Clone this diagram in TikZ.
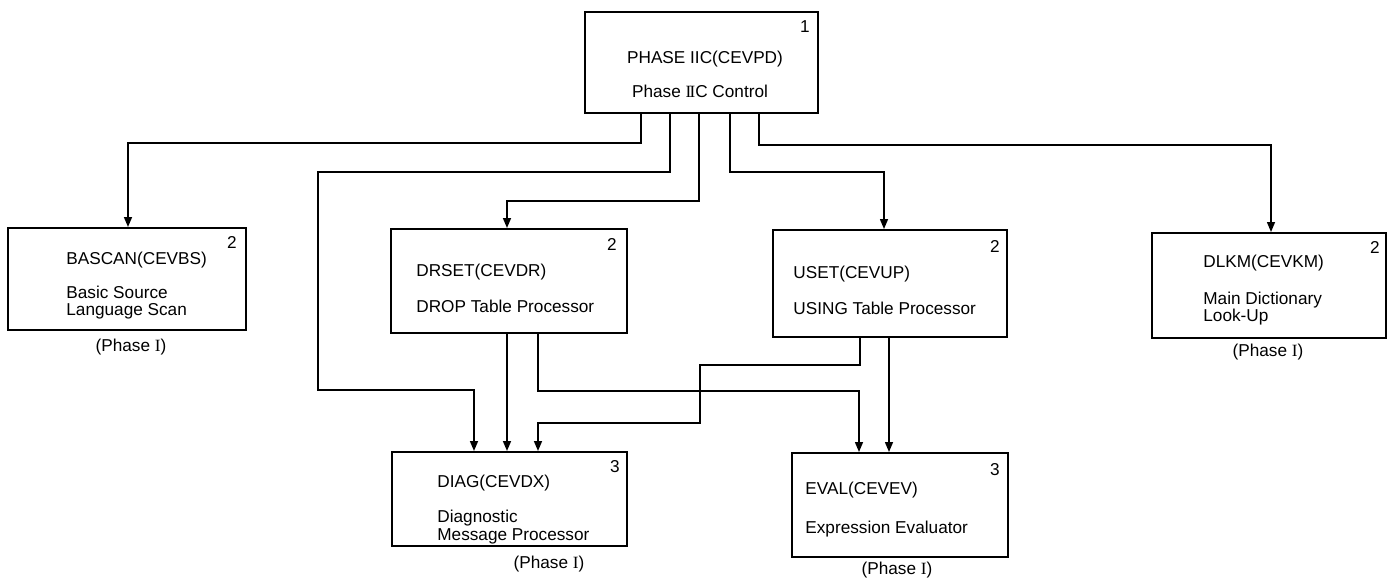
\documentclass[tikz,border=0pt]{standalone}
\usepackage{fontspec}
\setmainfont{Liberation Sans}
\newfontfamily\numfont{Liberation Serif}
\usetikzlibrary{arrows.meta}
% roman numerals set in a serif face, as in the printed chart
\newcommand{\romI}{{\numfont I}}
\newcommand{\romII}{{\numfont I\kern-0.9pt I}}
\begin{document}
\begin{tikzpicture}[x=0.5pt,y=-0.5pt,
  box/.style={draw,line width=1pt,inner sep=0pt},
  tx/.style={inner sep=0pt,anchor=base west,font=\fontsize{8.6pt}{10pt}\selectfont},
  txc/.style={tx,anchor=base},
  num/.style={tx,anchor=base east},
  arr/.style={line width=0.75pt,-{Triangle[length=5pt,width=4pt]}},
  ln/.style={line width=0.75pt}]
\useasboundingbox (0,0) rectangle (1392,579);
\fill[white] (0,0) rectangle (1392,579);

% ---- module boxes
\node[box,minimum width=116.5pt,minimum height=50.5pt] (top) at (701.5,62.5) {};
\node[box,minimum width=119pt,minimum height=51pt] (bas) at (127,279) {};
\node[box,minimum width=118pt,minimum height=52pt] (drs) at (509,281) {};
\node[box,minimum width=117pt,minimum height=53.5pt] (use) at (890,283.5) {};
\node[box,minimum width=117pt,minimum height=52.5pt] (dlk) at (1269,285.5) {};
\node[box,minimum width=117.5pt,minimum height=47pt] (dia) at (509.5,499) {};
\node[box,minimum width=108pt,minimum height=52pt] (eva) at (900,505) {};

% ---- box texts
\node[txc] (top-a) at (705,63) {PHASE IIC(CEVPD)};
\node[txc] (top-b) at (700,97) {Phase \romII C Control};
\node[num] (top-n) at (810,32) {1};

\node[tx] (bas-a) at (66,264) {BASCAN(CEVBS)};
\node[tx] (bas-b) at (66,298) {Basic Source};
\node[tx] (bas-c) at (66,315) {Language Scan};
\node[num] (bas-n) at (237,248) {2};
\node[txc] (bas-p) at (131,351) {(Phase \romI)};

\node[tx] (drs-a) at (416,276) {DRSET(CEVDR)};
\node[tx] (drs-b) at (416,312) {DROP Table Processor};
\node[num] (drs-n) at (617,250) {2};

\node[tx] (use-a) at (793,278) {USET(CEVUP)};
\node[tx] (use-b) at (793,314) {USING Table Processor};
\node[num] (use-n) at (1000,252) {2};

\node[tx] (dlk-a) at (1203,267) {DLKM(CEVKM)};
\node[tx] (dlk-b) at (1203,304) {Main Dictionary};
\node[tx] (dlk-c) at (1203,321) {Look-Up};
\node[num] (dlk-n) at (1380,253) {2};
\node[txc] (dlk-p) at (1268,356) {(Phase \romI)};

\node[tx] (dia-a) at (437,487) {DIAG(CEVDX)};
\node[tx] (dia-b) at (437,522) {Diagnostic};
\node[tx] (dia-c) at (437,540) {Message Processor};
\node[num] (dia-n) at (620,472) {3};
\node[txc] (dia-p) at (549,568) {(Phase \romI)};

\node[tx] (eva-a) at (805,494) {EVAL(CEVEV)};
\node[tx] (eva-b) at (805,533) {Expression Evaluator};
\node[num] (eva-n) at (1000,475) {3};
\node[txc] (eva-p) at (897,574) {(Phase \romI)};

% ---- routing points
\coordinate (k1) at (641,143);
\coordinate (k2) at (670,172);
\coordinate (k3) at (699,201);
\coordinate (k4) at (730,172);
\coordinate (k5) at (759,145);
\coordinate (a1) at (128,0);
\coordinate (a3) at (507,0);
\coordinate (a4) at (884,0);
\coordinate (a5) at (1271,0);
\coordinate (j2) at (318,390);
\coordinate (d1) at (474,0);
\coordinate (d2) at (507,0);
\coordinate (d3) at (538,0);
\coordinate (q1) at (859,391);
\coordinate (r1) at (860,0);
\coordinate (r2) at (700,365);
\coordinate (r3) at (538,423);
\coordinate (r4) at (889,0);

% ---- connectors from the control phase
\draw[arr] (top.south -| k1) -- (k1) -| (bas.north -| a1);
\draw[arr] (top.south -| k2) -- (k2) -| (j2) -| (dia.north -| d1);
\draw[arr] (top.south -| k3) -- (k3) -| (drs.north -| a3);
\draw[arr] (top.south -| k4) -- (k4) -| (use.north -| a4);
\draw[arr] (top.south -| k5) -- (k5) -| (dlk.north -| a5);

% ---- connectors between second-level modules
\draw[arr] (drs.south -| d2) -- (dia.north -| d2);
\draw[arr] (drs.south -| d3) |- (q1) -- (eva.north -| q1);
\draw[arr] (use.south -| r1) |- (r2) |- (r3) -- (dia.north -| r3);
\draw[arr] (use.south -| r4) -- (eva.north -| r4);
\end{tikzpicture}
\end{document}
